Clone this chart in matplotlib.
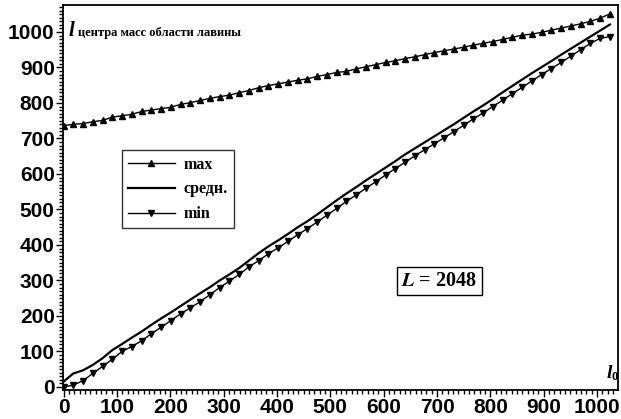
import numpy as np
import matplotlib
matplotlib.use('Agg')
import matplotlib.pyplot as plt
from matplotlib.ticker import MultipleLocator

plt.rcParams['mathtext.fontset'] = 'stix'

# l0 grid (57 points over 0..1024)
l0 = np.linspace(0, 1024, 57)

l_max = [736, 740, 742, 747, 751, 760, 764, 768, 776, 780,
         784, 788, 796, 801, 807, 813, 818, 822, 829, 835,
         843, 849, 854, 859, 864, 868, 875, 880, 886, 889,
         896, 902, 908, 914, 919, 925, 930, 936, 942, 947,
         952, 957, 963, 968, 973, 979, 985, 991, 994, 999,
         1005, 1011, 1017, 1023, 1030, 1039, 1051]

l_mean = [15, 38, 47, 62, 81, 104, 121, 139, 156, 175,
          193, 210, 228, 246, 264, 281, 300, 317, 335, 356,
          377, 396, 413, 431, 450, 467, 486, 506, 526, 545,
          563, 582, 600, 618, 636, 655, 672, 689, 706, 723,
          740, 758, 776, 793, 811, 830, 848, 866, 884, 901,
          918, 936, 953, 970, 987, 1004, 1021]

l_min = [0, 5, 18, 38, 58, 78, 100, 114, 130, 150,
         168, 187, 206, 223, 240, 260, 280, 298, 317, 338,
         356, 375, 392, 410, 429, 446, 465, 484, 503, 523,
         541, 560, 578, 597, 615, 633, 651, 668, 685, 702,
         719, 737, 755, 772, 790, 808, 826, 844, 862, 880,
         897, 914, 932, 950, 968, 982, 987]

labels = ['max', 'средн.', 'min']
L_size = 2048

serif = ['Liberation Serif', 'DejaVu Serif']
sans = ['Liberation Sans', 'DejaVu Sans']

fig = plt.figure(figsize=(6.21, 4.19), dpi=100)
ax = fig.add_axes([0.1014, 0.0692, 0.8937, 0.9189])

ax.plot(l0, l_max, color='black', lw=1.0, marker='^', ms=4.2, label=labels[0])
ax.plot(l0, l_mean, color='black', lw=1.6, label=labels[1])
ax.plot(l0, l_min, color='black', lw=1.0, marker='v', ms=4.2, label=labels[2])

ax.set_xlim(-1, 1039)
ax.set_ylim(-8.5, 1076)

ax.xaxis.set_major_locator(MultipleLocator(100))
ax.xaxis.set_minor_locator(MultipleLocator(10))
ax.yaxis.set_major_locator(MultipleLocator(100))
ax.yaxis.set_minor_locator(MultipleLocator(10))
ax.tick_params(which='both', direction='out', top=False, right=False, width=1.0)
ax.tick_params(which='major', length=5, labelsize=15, pad=1)
ax.tick_params(which='minor', length=3)
for lab in ax.get_xticklabels() + ax.get_yticklabels():
    lab.set_fontfamily(sans)
    lab.set_fontweight('bold')
for sp in ax.spines.values():
    sp.set_linewidth(1.3)

leg = ax.legend(loc='upper left', bbox_to_anchor=(0.106, 0.623), frameon=True,
                fancybox=False, edgecolor='black', handlelength=2.9,
                handletextpad=0.55, borderpad=0.4, labelspacing=0.55,
                borderaxespad=0,
                prop={'family': serif, 'weight': 'bold', 'size': 11.5})
leg.get_frame().set_linewidth(1.0)

ax.text(0.678, 0.283, f'$\\mathbfit{{L}}$ = {L_size}', transform=ax.transAxes,
        ha='center', va='center', fontsize=14.5, fontweight='bold', family=serif,
        bbox=dict(boxstyle='square,pad=0.22', facecolor='white', edgecolor='black', lw=1.0))

# axis names inside the frame
fig.text(69 / 621, 1 - 36 / 419, 'l', fontsize=15, fontweight='bold', style='italic',
         family=serif, ha='left', va='baseline')
fig.text(78 / 621, 1 - 36 / 419, 'центра масс области лавины', fontsize=9,
         fontweight='bold', family=serif, ha='left', va='baseline')
fig.text(607 / 621, 1 - 378 / 419, 'l', fontsize=14, fontweight='bold', style='italic',
         family=serif, ha='left', va='baseline')
fig.text(612 / 621, 1 - 380 / 419, '0', fontsize=9, fontweight='bold',
         family=serif, ha='left', va='baseline')

fig.savefig('out.png', dpi=100)
